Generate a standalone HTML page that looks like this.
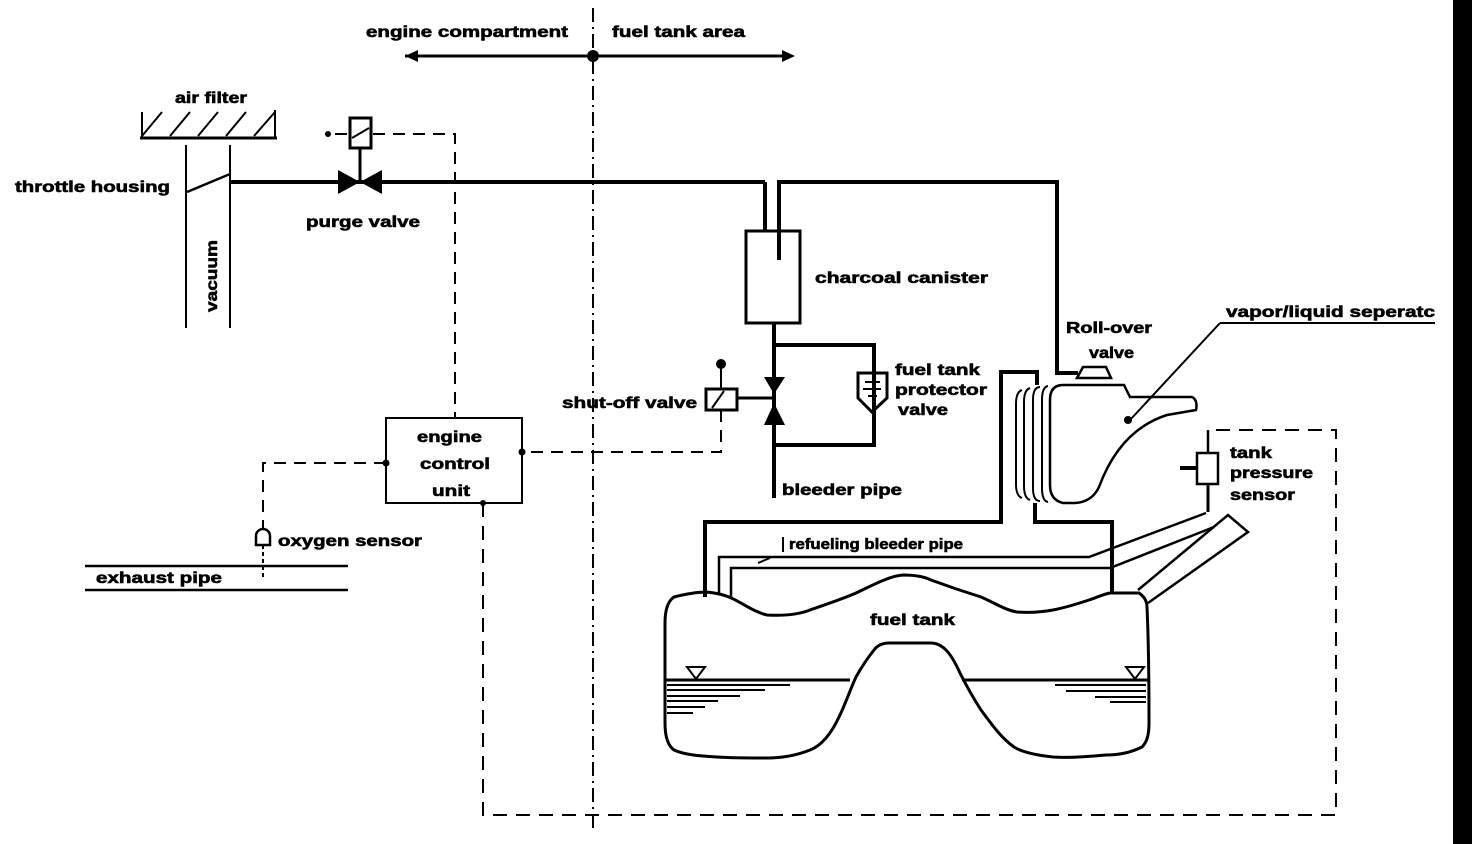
<!DOCTYPE html>
<html><head><meta charset="utf-8"><style>
html,body{margin:0;padding:0;background:#fff;}
svg{display:block;}
text{font-family:"Liberation Sans",sans-serif;font-weight:bold;font-size:16px;fill:#000;stroke:#000;stroke-width:0.6px;}
</style></head><body>
<svg width="1472" height="844" viewBox="0 0 1472 844" xmlns="http://www.w3.org/2000/svg">
<rect x="1453" y="0" width="19" height="844" fill="#000"/>
<g fill="none" stroke="#000" stroke-width="2">
<line x1="593" y1="8" x2="593" y2="832" stroke-dasharray="14,5,2,5"/>
<line x1="405" y1="56" x2="785" y2="56" stroke-width="3"/>
<line x1="140" y1="138" x2="277" y2="138" stroke-width="3"/>
<line x1="142" y1="112" x2="142" y2="138"/>
<line x1="275" y1="110" x2="275" y2="138"/>
<path d="M142 136 L162 112 M170 136 L190 112 M198 136 L218 112 M226 136 L246 112 M254 136 L275 112"/>
<line x1="186" y1="145" x2="186" y2="328"/>
<line x1="230" y1="145" x2="230" y2="328"/>
<path d="M187 192 L230 174" stroke-width="2.5"/>
<line x1="230" y1="182" x2="765" y2="182" stroke-width="4"/>
<path d="M765 182 V230" stroke-width="4"/>
<path d="M779 260 V182 H1057 V373 H1078" stroke-width="4"/>
<rect x="746" y="231" width="54" height="92" stroke-width="3"/>
<line x1="360" y1="148" x2="360" y2="182" stroke-width="3"/>
<rect x="350" y="118" width="21" height="30" stroke-width="3"/>
<line x1="352" y1="138" x2="369" y2="128" stroke-width="2"/>
<path d="M335 134 H348 M373 134 H455 V418" stroke-dasharray="12,8"/>
<path d="M774 323 V498" stroke-width="4"/>
<path d="M774 345 H874 V445 H774" stroke-width="4"/>
<rect x="706" y="389" width="31" height="21" stroke-width="3"/>
<line x1="712" y1="408" x2="724" y2="391"/>
<line x1="721" y1="368" x2="721" y2="389"/>
<line x1="737" y1="398" x2="774" y2="398" stroke-width="3"/>
<path d="M721 410 V452 H522" stroke-dasharray="12,8"/>
<rect x="386" y="418" width="136" height="85" stroke-width="2"/>
<path d="M386 463 H263 V530" stroke-dasharray="12,8"/>
<path d="M483 503 V815 H1336 V430 H1210" stroke-dasharray="14,9"/>
<line x1="1208" y1="430" x2="1208" y2="452" stroke-width="2.5"/>
<line x1="85" y1="566" x2="348" y2="566" stroke-width="2.5"/>
<line x1="85" y1="590" x2="348" y2="590" stroke-width="2.5"/>
<path d="M256 545 V536 A7 7 0 0 1 270 536 V545 Z" stroke-width="2.5"/>
<line x1="263" y1="545" x2="263" y2="577" stroke-dasharray="4,3"/>
<rect x="1197" y="453" width="21" height="31" stroke-width="2.5"/>
<line x1="1180" y1="468" x2="1197" y2="468" stroke-width="4"/>
<line x1="1208" y1="484" x2="1208" y2="512" stroke-width="3"/>
<path stroke-width="3" d="M674 597 C690 593 705 591 714 593 C726 595 732 598 739 602 C750 608 758 613 767 615 C785 616 800 614 810 610 C830 603 845 598 856 593 C875 584 890 576 903 575 C915 575 925 577 931 580 C950 587 965 592 981 597 C995 603 1005 610 1017 612 C1030 613 1042 612 1053 610 C1068 607 1080 603 1089 600 C1098 597 1104 594 1110 593 L1139 593 C1145 597 1147 602 1147 607 C1149 650 1149 700 1149 723 C1149 735 1147 742 1142 747 C1130 753 1118 755 1106 755 C1085 757 1068 758 1053 757 C1035 755 1022 752 1014 747 C1000 737 990 722 981 710 C972 696 965 683 960 673 C955 662 950 654 946 650 C941 645 936 643 931 643 L889 643 C882 643 877 646 874 650 C866 660 861 668 856 677 C850 690 845 705 839 717 C832 732 823 745 810 750 C795 756 780 758 767 758 C750 758 732 758 717 757 C700 756 685 755 674 750 C667 745 665 735 665 723 L665 623 C665 610 668 601 674 597 Z"/>
<line x1="666" y1="680" x2="850" y2="680" stroke-width="3"/>
<line x1="962" y1="680" x2="1148" y2="680" stroke-width="3"/>
<path d="M687 667 H705 L696 679 Z M1126 667 H1144 L1135 679 Z" stroke-width="2"/>
<g stroke-width="2"><line x1="667" y1="685" x2="790" y2="685"/><line x1="667" y1="690" x2="765" y2="690"/><line x1="667" y1="696" x2="740" y2="696"/><line x1="667" y1="701" x2="718" y2="701"/><line x1="667" y1="707" x2="705" y2="707"/><line x1="667" y1="713" x2="693" y2="713"/>
<line x1="1055" y1="685" x2="1146" y2="685"/><line x1="1066" y1="691" x2="1146" y2="691"/><line x1="1095" y1="697" x2="1146" y2="697"/><line x1="1110" y1="702" x2="1146" y2="702"/></g>
<path d="M705 597 V522 H1001 V372 H1037 V385" stroke-width="4"/>
<path d="M1035 503 V522 H1112 V593" stroke-width="4"/>
<path d="M719 593 V557 H1089 L1206 513" stroke-width="2.5"/>
<path d="M731 597 V568 H1110 L1214 527" stroke-width="2.5"/>
<line x1="783" y1="537" x2="783" y2="552"/>
<path d="M758 563 L770 558"/>
<path d="M1138 590 L1228 515 L1248 532 L1148 603" stroke-width="2.5"/>
<path stroke-width="2.5" d="M1063 385 H1124 L1130 397 H1192 Q1198 400 1196 410 L1167 415 Q1120 430 1099 487 Q1092 502 1075 503 H1063 Q1050 500 1050 485 V400 Q1050 385 1063 385 Z"/>
<path stroke-width="2" d="M1040 387 Q1033 387 1033 400 V488 Q1033 501 1040 501 M1030 388 Q1024 390 1024 402 V486 Q1024 498 1030 500 M1022 390 Q1016 392 1016 404 V484 Q1016 496 1022 498 M1048 386 Q1042 387 1042 400 V488 Q1042 501 1048 502"/>
<path d="M1077 378 L1083 367 H1106 L1111 378 Z" stroke-width="2.5"/>
<path d="M1220 323 H1435 M1220 323 L1130 420" stroke-width="2"/>
</g>
<g fill="#000">
<circle cx="593" cy="56" r="6"/>
<polygon points="405,56 418,50 418,62"/>
<polygon points="795,56 782,50 782,62"/>
<polygon points="338,170 338,194 360,182"/>
<polygon points="382,170 382,194 360,182"/>
<circle cx="328" cy="134" r="3"/>
<polygon points="764,377 785,377 774,394"/>
<polygon points="764,425 785,425 774,403"/>
<circle cx="721" cy="364" r="5"/>
<circle cx="522" cy="452" r="3.5"/>
<circle cx="386" cy="463" r="3.5"/>
<circle cx="483" cy="503" r="3"/>
<circle cx="1128" cy="420" r="4"/>
</g>
<path d="M858 373 H887 V398 L872 412 L858 398 Z" fill="none" stroke="#000" stroke-width="3"/>
<path d="M865 382 H880 M863 389 H881 M868 396 H877" stroke="#000" stroke-width="2"/>
<g>
<text x="366" y="37" textLength="202" lengthAdjust="spacingAndGlyphs">engine compartment</text>
<text x="612" y="37" textLength="133" lengthAdjust="spacingAndGlyphs">fuel tank area</text>
<text x="175" y="103" textLength="72" lengthAdjust="spacingAndGlyphs">air filter</text>
<text x="15" y="192" textLength="155" lengthAdjust="spacingAndGlyphs">throttle housing</text>
<text x="306" y="227" textLength="114" lengthAdjust="spacingAndGlyphs">purge valve</text>
<text transform="translate(217,312) rotate(-90)" textLength="72" lengthAdjust="spacingAndGlyphs">vacuum</text>
<text x="815" y="283" textLength="173" lengthAdjust="spacingAndGlyphs">charcoal canister</text>
<text x="1066" y="333" textLength="86" lengthAdjust="spacingAndGlyphs">Roll-over</text>
<text x="1089" y="358" textLength="45" lengthAdjust="spacingAndGlyphs">valve</text>
<text x="1226" y="317" textLength="209" lengthAdjust="spacingAndGlyphs">vapor/liquid seperatc</text>
<text x="895" y="375" textLength="85" lengthAdjust="spacingAndGlyphs">fuel tank</text>
<text x="895" y="395" textLength="92" lengthAdjust="spacingAndGlyphs">protector</text>
<text x="898" y="415" textLength="50" lengthAdjust="spacingAndGlyphs">valve</text>
<text x="562" y="408" textLength="135" lengthAdjust="spacingAndGlyphs">shut-off valve</text>
<text x="782" y="495" textLength="120" lengthAdjust="spacingAndGlyphs">bleeder pipe</text>
<text x="417" y="442" textLength="65" lengthAdjust="spacingAndGlyphs">engine</text>
<text x="420" y="469" textLength="70" lengthAdjust="spacingAndGlyphs">control</text>
<text x="432" y="496" textLength="38" lengthAdjust="spacingAndGlyphs">unit</text>
<text x="1230" y="458" textLength="42" lengthAdjust="spacingAndGlyphs">tank</text>
<text x="1230" y="478" textLength="83" lengthAdjust="spacingAndGlyphs">pressure</text>
<text x="1230" y="500" textLength="65" lengthAdjust="spacingAndGlyphs">sensor</text>
<text x="278" y="546" textLength="144" lengthAdjust="spacingAndGlyphs">oxygen sensor</text>
<text x="96" y="583" textLength="126" lengthAdjust="spacingAndGlyphs">exhaust pipe</text>
<text x="789" y="549" textLength="174" lengthAdjust="spacingAndGlyphs" style="font-size:15px">refueling bleeder pipe</text>
<text x="870" y="625" textLength="85" lengthAdjust="spacingAndGlyphs">fuel tank</text>
</g>
</svg>
</body></html>
